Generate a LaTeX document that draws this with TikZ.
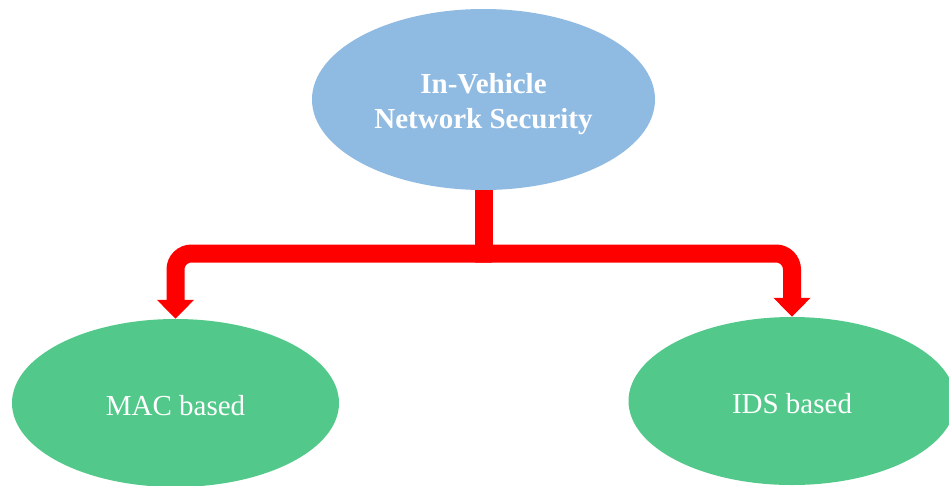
\documentclass[tikz,border=0pt]{standalone}
\usepackage{fontspec}
\setmainfont{Liberation Serif}
\usetikzlibrary{shapes.geometric,arrows.meta}
\definecolor{topblue}{RGB}{143,186,226}
\definecolor{leafgreen}{RGB}{82,201,138}
\definecolor{connred}{RGB}{255,0,0}
\tikzset{
  rootbox/.style={ellipse, fill=topblue, draw=none, inner sep=0pt,
    minimum width=343pt, minimum height=181pt, text=white, align=center,
    font=\fontsize{29}{35}\selectfont\bfseries, text height=57pt, text depth=0pt},
  leafbox/.style={ellipse, fill=leafgreen, draw=none, inner sep=0pt,
    minimum width=327pt, minimum height=168pt, text=white,
    font=\fontsize{29}{35}\selectfont, text height=24pt, text depth=0pt},
  conn/.style={draw=connred, line width=18pt},
  branch/.style={conn, rounded corners=16pt, -{Triangle[width=36pt,length=19pt]}}
}
\begin{document}
\begin{tikzpicture}[x=1pt,y=-1pt]
  \useasboundingbox (0,0) rectangle (949,485);
  \clip (0,0) rectangle (949,485);
  \fill[white] (0,0) rectangle (949,485);

  % three ellipses
  \node[rootbox] (top) at (483.5,99.5) {In-Vehicle\\Network Security};
  \node[leafbox] (mac) at (175.5,403) {MAC based};
  \node[leafbox] (ids) at (792,401) {IDS based};

  % T-shaped connector; the two branches overlap a little at the joint
  \coordinate (j) at (483.5,262);
  \coordinate (jl) at (492,253.5);
  \coordinate (jr) at (475,253.5);
  \draw[conn] (top.south) -- (j);
  \draw[branch] (jl) -| (mac.north);
  \draw[branch] (jr) -| (ids.north);
\end{tikzpicture}
\end{document}
